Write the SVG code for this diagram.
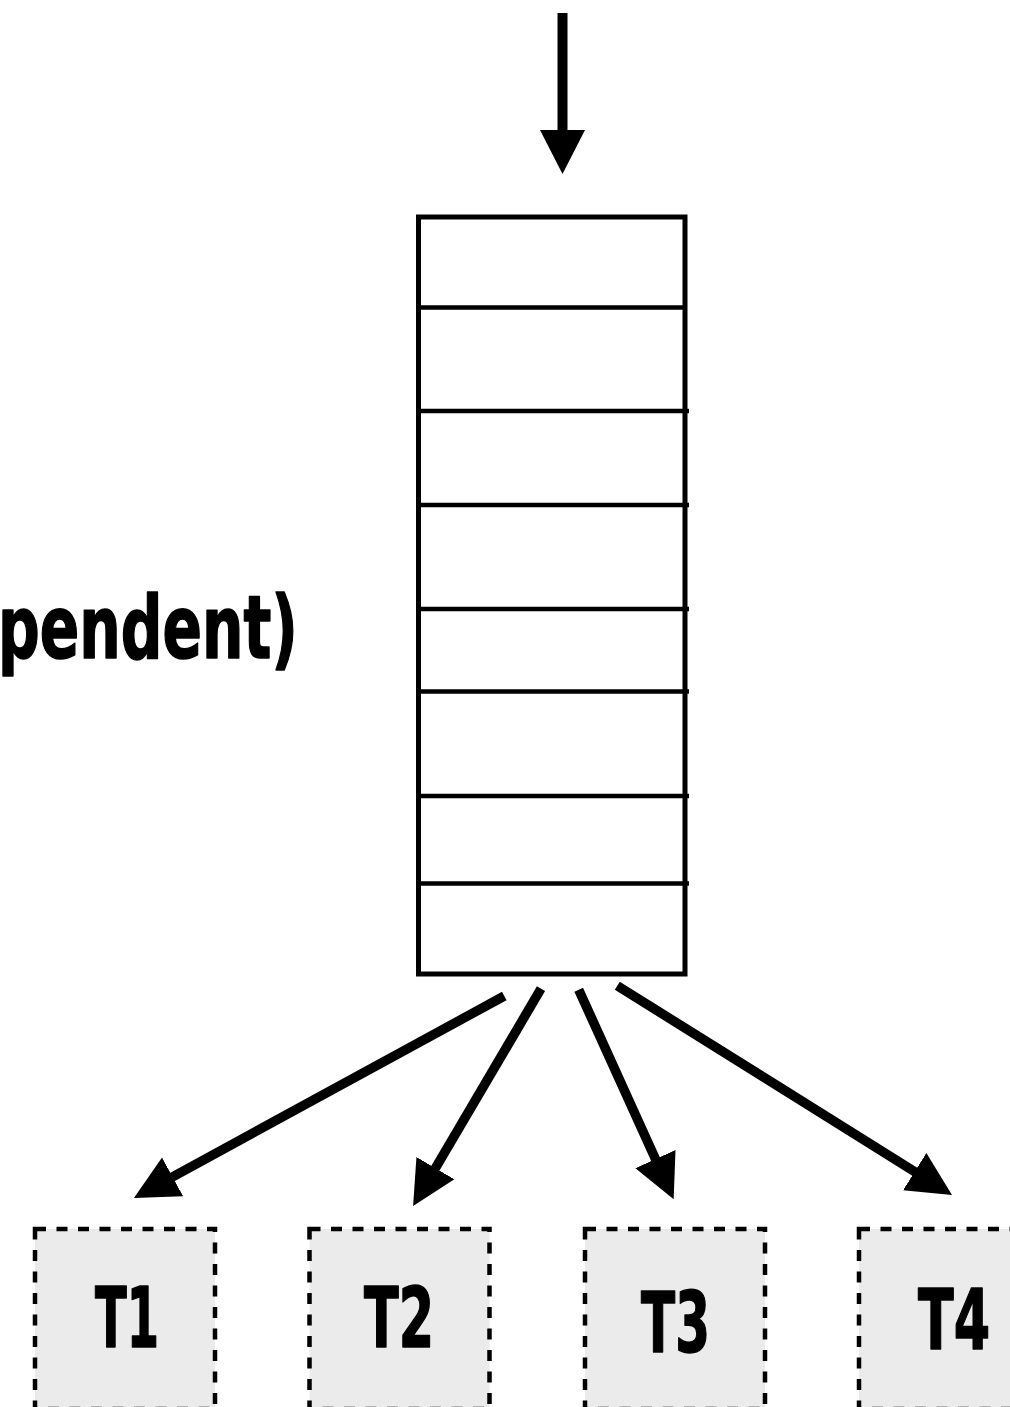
<svg xmlns="http://www.w3.org/2000/svg" width="1010" height="1407" viewBox="0 0 1010 1407">
  <style>
    .lbl { font-family: "Liberation Sans Narrow", "DejaVu Sans Condensed", "Liberation Sans", sans-serif; font-weight: bold; fill: #000; stroke: #000; stroke-width: 1.5; stroke-linejoin: round; }
    .task { fill: #ebebeb; stroke: #000; stroke-width: 4.5; stroke-dasharray: 11 10.5; }
    .queue { fill: #fff; stroke: #000; stroke-width: 5; }
    .div { stroke: #000; stroke-width: 4.5; }
    .conn { stroke: #000; stroke-width: 9.5; fill: none; marker-end: url(#head); }
  </style>
  <defs>
    <marker id="head" markerUnits="userSpaceOnUse" markerWidth="46" markerHeight="46" viewBox="0 0 46 44" refX="2" refY="22" orient="auto">
      <path d="M0,0 L44,22 L0,44 Z" fill="#000"/>
    </marker>
  </defs>
  <rect width="1010" height="1407" fill="#fff"/>

  <g id="label">
    <text class="lbl" x="-2" y="658" font-size="87" textLength="300" lengthAdjust="spacingAndGlyphs">pendent)</text>
  </g>

  <g id="queue">
    <rect class="queue" x="418.5" y="217" width="266.5" height="757"/>
    <line class="div" x1="416" y1="307.5" x2="684" y2="307.5"/>
    <line class="div" x1="416" y1="411" x2="689" y2="411"/>
    <line class="div" x1="416" y1="505" x2="689" y2="505"/>
    <line class="div" x1="416" y1="609" x2="689" y2="609"/>
    <line class="div" x1="416" y1="691.5" x2="689" y2="691.5"/>
    <line class="div" x1="416" y1="796" x2="689" y2="796"/>
    <line class="div" x1="416" y1="883.5" x2="689" y2="883.5"/>
  </g>

  <g id="T1">
    <rect class="task" x="35" y="1229" width="180" height="180"/>
    <text class="lbl" x="95" y="1347" font-size="84" textLength="64" lengthAdjust="spacingAndGlyphs">T1</text>
  </g>
  <g id="T2">
    <rect class="task" x="309.5" y="1229" width="180" height="180"/>
    <text class="lbl" x="364" y="1347" font-size="84" textLength="70" lengthAdjust="spacingAndGlyphs">T2</text>
  </g>
  <g id="T3">
    <rect class="task" x="585" y="1229" width="180" height="180"/>
    <text class="lbl" x="641" y="1352" font-size="84" textLength="69" lengthAdjust="spacingAndGlyphs">T3</text>
  </g>
  <g id="T4">
    <rect class="task" x="859" y="1229" width="180" height="180"/>
    <text class="lbl" x="918" y="1349" font-size="84" textLength="72" lengthAdjust="spacingAndGlyphs">T4</text>
  </g>

  <g id="connectors">
    <line x1="562.5" y1="13" x2="562.5" y2="134" stroke="#000" stroke-width="10"/>
    <path d="M540,130 L585,130 L562.5,174 Z" fill="#000"/>
    <line class="conn" x1="504.3" y1="996" x2="170.8" y2="1177.8"/>
    <line class="conn" x1="541" y1="988.7" x2="434.4" y2="1169.9"/>
    <line class="conn" x1="578.7" y1="989.7" x2="656.3" y2="1160.9"/>
    <line class="conn" x1="617.3" y1="985.7" x2="916.4" y2="1172.7"/>
  </g>
</svg>
